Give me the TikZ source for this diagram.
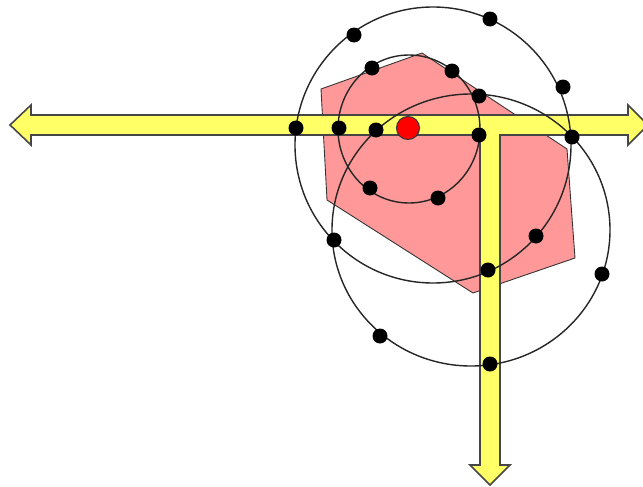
\documentclass[tikz,border=0pt]{standalone}
\usepackage{tikz}
\usetikzlibrary{positioning}
\definecolor{road_yellow}{RGB}{255,255,102}
\definecolor{zone_pink}{RGB}{255,153,153}
\definecolor{road_edge}{RGB}{70,70,70}

\begin{document}
\begin{tikzpicture}[
    x=0.02cm, y=-0.02cm,
    zone/.style={fill=zone_pink, draw=black!80, line width=0.5pt},
    road/.style={fill=road_yellow, draw=road_edge, line width=0.9pt, line join=miter},
    orbit/.style={draw=black!85, line width=0.8pt},
    pt_dot/.style={circle, fill=black, inner sep=0pt, minimum size=0.3cm},
    red_dot/.style={circle, fill=red, draw=black!80, line width=0.6pt, inner sep=0pt, minimum size=0.46cm}
]
    \useasboundingbox (0,0) rectangle (643,487);
    % hexagonal zone
    \draw[zone] (321,89) -- (422,53) -- (567,149) -- (575,258) -- (473,293) -- (327,200) -- cycle;
    % T-shaped arrows
    \draw[road] (10,125) -- (31,105) -- (31,115) -- (628,115) -- (628,105) -- (648,125)
        -- (628,145) -- (628,135) -- (500,135) -- (500,465) -- (510,465) -- (490,485)
        -- (470,465) -- (480,465) -- (480,135) -- (31,135) -- (31,145) -- cycle;
    % circles
    \draw[orbit] (433,145) circle[radius=138];
    \draw[orbit] (409,129) ellipse[x radius=71, y radius=74];
    \draw[orbit] (471,230) ellipse[x radius=139, y radius=136];
    % points on the circles
    \node[pt_dot] (big_a) at (354,35) {};
    \node[pt_dot] (big_b) at (490,19) {};
    \node[pt_dot] (big_c) at (563,87) {};
    \node[pt_dot] (big_d) at (572,137) {};
    \node[pt_dot] (big_e) at (296,128) {};
    \node[pt_dot] (big_f) at (334,240) {};
    \node[pt_dot] (big_g) at (536,236) {};
    \node[pt_dot] (big_h) at (488,270) {};
    \node[pt_dot] (small_a) at (339,128) {};
    \node[pt_dot] (small_b) at (372,68) {};
    \node[pt_dot] (small_c) at (452,71) {};
    \node[pt_dot] (small_d) at (479,135) {};
    \node[pt_dot] (small_e) at (370,188) {};
    \node[pt_dot] (small_f) at (438,198) {};
    \node[pt_dot] (low_a) at (376,130) {};
    \node[pt_dot] (low_b) at (479,96) {};
    \node[pt_dot] (low_c) at (602,274) {};
    \node[pt_dot] (low_d) at (380,336) {};
    \node[pt_dot] (low_e) at (490,364) {};
    % centre
    \node[red_dot] (centre) at (408,128) {};
\end{tikzpicture}
\end{document}
